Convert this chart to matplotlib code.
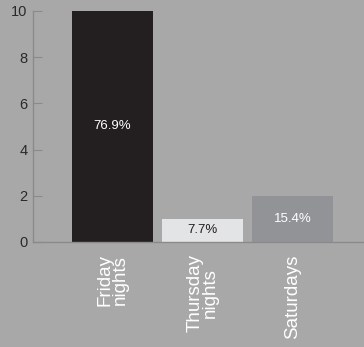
import matplotlib
matplotlib.use('Agg')
import matplotlib.pyplot as plt

# Survey answers: share of votes per evening
categories = ['Friday\nnights', 'Thursday\nnights', 'Saturdays']
votes = [10, 1, 2]
shares = ['76.9%', '7.7%', '15.4%']
bar_colors = ['#231f20', '#e3e4e5', '#929396']
text_colors = ['white', '#231f20', 'white']
y_ticks = [0, 2, 4, 6, 8, 10]

bg = '#a7a8a7'
plt.rcParams['font.family'] = ['Liberation Sans', 'DejaVu Sans']

fig = plt.figure(figsize=(3.64, 3.47), dpi=100, facecolor=bg)
ax = fig.add_axes([0.0907, 0.3026, 0.9093, 0.6657])
ax.set_facecolor(bg)

x = list(range(len(categories)))
ax.bar(x, votes, width=0.9, color=bar_colors)

for xi, v, s, c in zip(x, votes, shares, text_colors):
    ax.text(xi, v / 2, s, ha='center', va='center', color=c, fontsize=9.5)

ax.set_xlim(-0.883, 2.794)
ax.set_ylim(0, 10)
ax.set_yticks(y_ticks)
ax.set_xticks(x)
ax.set_xticklabels(categories, rotation=90, color='white', fontsize=13.5,
                   linespacing=0.9, multialignment='center')

for side in ('top', 'right'):
    ax.spines[side].set_visible(False)
for side in ('left', 'bottom'):
    ax.spines[side].set_color('#8a8a8a')
    ax.spines[side].set_linewidth(1.0)

ax.tick_params(axis='y', direction='in', length=6.5, color='#8a8a8a',
               labelcolor='#2a2a2a', labelsize=10.5, pad=4)
ax.tick_params(axis='x', length=0, pad=9)

fig.savefig('out.png', dpi=100, facecolor=bg)
